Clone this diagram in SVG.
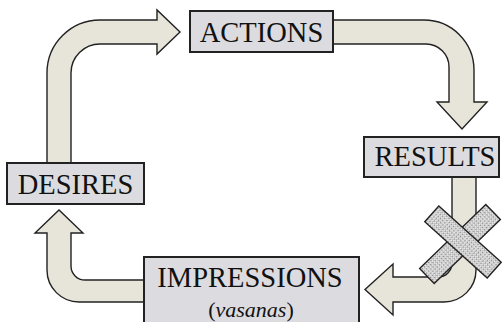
<svg xmlns="http://www.w3.org/2000/svg" width="502" height="322" viewBox="0 0 502 322">
  <defs>
    <!-- stippled fill for the crossed-out bars -->
    <pattern id="stipple" width="3" height="3" patternUnits="userSpaceOnUse">
      <rect width="3" height="3" fill="#ebebeb"/>
      <circle cx="0.8" cy="0.8" r="0.65" fill="#222"/>
      <circle cx="2.3" cy="2.3" r="0.45" fill="#666"/>
    </pattern>
    <style>
      .arrow { fill: #e7e5d9; stroke: #222; stroke-width: 1.4; stroke-linejoin: miter; }
      .box { fill: #dcdce0; stroke: #222; stroke-width: 2; }
      .label { font-family: "Liberation Serif", "Times New Roman", serif; font-size: 28.5px; fill: #111; text-anchor: middle; }
      .sub { font-family: "Liberation Serif", "Times New Roman", serif; font-size: 22px; fill: #111; text-anchor: middle; }
      .bar { fill: url(#stipple); stroke: #222; stroke-width: 1.4; }
    </style>
  </defs>

  <rect width="502" height="322" fill="#ffffff"/>

  <g id="connectors">
    <!-- desires -> actions -->
    <path class="arrow" d="M 47 170 L 47 73 A 53 53 0 0 1 100 20 L 157 20 L 157 10 L 180 32 L 157 54 L 157 44 L 100 44 A 29 29 0 0 0 71 73 L 71 170 Z"/>
    <!-- actions -> results -->
    <path class="arrow" d="M 320 20 L 424 20 A 50 50 0 0 1 474 70 L 474 102 L 487 102 L 462 129 L 437 102 L 449 102 L 449 67 A 23 23 0 0 0 426 44 L 320 44 Z"/>
    <!-- results -> impressions -->
    <path class="arrow" d="M 476 170 L 476 270 A 32 32 0 0 1 444 302 L 393 302 L 393 315 L 365 289.5 L 393 264 L 393 277 L 438 277 A 14 14 0 0 0 452 263 L 452 170 Z"/>
    <!-- impressions -> desires -->
    <path class="arrow" d="M 160 280 L 85 280 A 14 14 0 0 1 71 266 L 71 233 L 83 233 L 59 210 L 35 233 L 47 233 L 47 270 A 32 32 0 0 0 79 302 L 160 302 Z"/>
  </g>

  <g id="actions">
    <rect class="box" x="190" y="11" width="143" height="41"/>
    <text class="label" x="261.5" y="42">ACTIONS</text>
  </g>

  <g id="results">
    <rect class="box" x="364" y="137" width="135" height="40"/>
    <text class="label" x="435" y="166">RESULTS</text>
  </g>

  <g id="desires">
    <rect class="box" x="7" y="163" width="137" height="41"/>
    <text class="label" x="75.5" y="194">DESIRES</text>
  </g>

  <g id="impressions">
    <rect class="box" x="144" y="257" width="215" height="72"/>
    <text class="label" x="250" y="287">IMPRESSIONS</text>
    <text class="sub" x="251" y="317">(<tspan font-style="italic">vasanas</tspan>)</text>
  </g>

  <!-- cross struck over the results -> impressions link -->
  <g id="cross">
    <rect class="bar" x="-46" y="-10.5" width="92" height="21" transform="translate(460 244) rotate(-44)"/>
    <rect class="bar" x="-42" y="-10.5" width="84" height="21" transform="translate(463 242) rotate(42)"/>
  </g>
</svg>
